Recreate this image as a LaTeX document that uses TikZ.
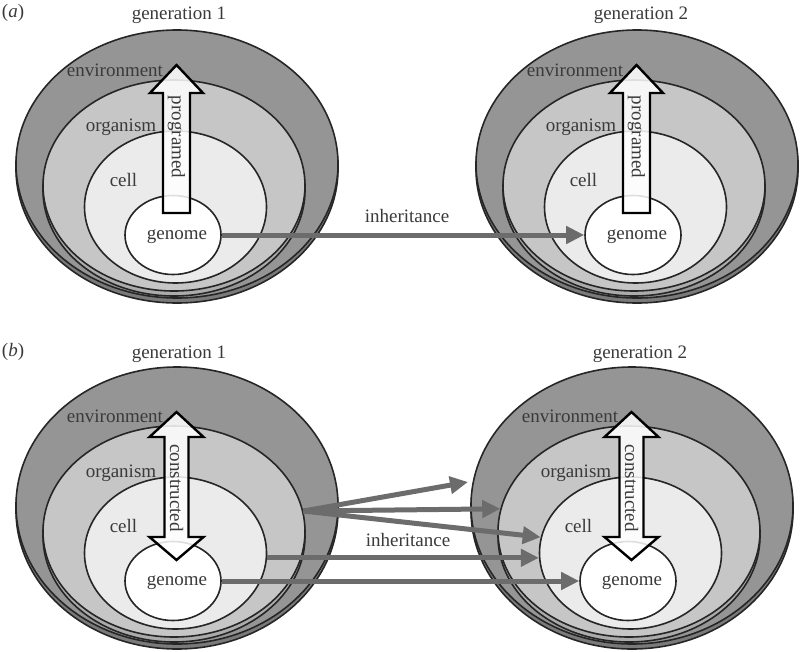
\documentclass[tikz,border=0pt]{standalone}
\usepackage{fontspec}
\setmainfont{Liberation Serif}
\usetikzlibrary{shapes.geometric,arrows.meta}
\definecolor{envc}{HTML}{959595}
\definecolor{envsh}{HTML}{7A7A7A}
\definecolor{orgc}{HTML}{C6C6C6}
\definecolor{orgsh}{HTML}{ABABAB}
\definecolor{cellc}{HTML}{EBEBEB}
\definecolor{inhc}{HTML}{6C6C6C}
\definecolor{txtc}{HTML}{3A3A3A}
\tikzset{
  layer/.style={ellipse, draw=black!85, line width=1.6pt, inner sep=0pt},
  lbl/.style={text=txtc, font=\fontsize{19}{22}\selectfont, inner sep=0pt},
  inh/.style={draw=inhc, line width=5pt, -{Triangle[length=18pt,width=17pt]}},
  blockarrow/.style={draw=black, line width=2.4pt, fill=white, fill opacity=0.85, line join=miter},
}
% #1 dx, #2 dy, #3 suffix, #4 outer centre y, #5 outer height
\newcommand{\nestgroup}[5]{%
  \begin{scope}[shift={(#1,#2)}]
    \node[layer, fill=envsh, minimum width=322pt, minimum height=#5pt] (envs#3) at (177,#4+5) {};
    \node[layer, fill=envc, minimum width=322pt, minimum height=#5pt] (env#3) at (177,#4) {};
    \node[layer, fill=orgsh, minimum width=262pt, minimum height=211pt] (orgs#3) at (174,190.5) {};
    \node[layer, fill=orgc, minimum width=262pt, minimum height=211pt] (org#3) at (174,185.5) {};
    \node[layer, fill=cellc, minimum width=182pt, minimum height=152pt] (cell#3) at (175.5,207) {};
    \node[layer, fill=white, minimum width=96pt, minimum height=79pt] (gen#3) at (173,235) {};
    \node[lbl] (lenv#3) at (115,70) {environment};
    \node[lbl] (lorg#3) at (121,127) {organism};
    \node[lbl] (lcell#3) at (123.5,180) {cell};
    \node[lbl] (lgen#3) at (177,237) {genome};
  \end{scope}}
% #1 dx, #2 dy, #3 suffix
\newcommand{\progarrow}[3]{%
  \begin{scope}[shift={(#1,#2)}]
    \draw[blockarrow] (163,213) -- (163,93) -- (150,93) -- (176.5,65) -- (203,93) -- (190,93) -- (190,213) -- cycle;
    \node[lbl, rotate=-90] (prog#3) at (176.5,137) {programed};
  \end{scope}}
\newcommand{\consarrow}[3]{%
  \begin{scope}[shift={(#1,#2)}]
    \draw[blockarrow] (176.5,66) -- (203.5,91) -- (188.5,91) -- (188.5,191) -- (203.5,191) -- (176.5,214)
      -- (149.5,191) -- (164.5,191) -- (164.5,91) -- (149.5,91) -- cycle;
    \node[lbl, rotate=-90] (cons#3) at (176.5,142) {constructed};
  \end{scope}}
\begin{document}
\begin{tikzpicture}[x=1pt, y=-1pt]
  \useasboundingbox (0,0) rectangle (800,651);
  % panel (a)
  \node[lbl] (pa) at (13,13) {(\textit{a})};
  \node[lbl] (g1a) at (179,15) {generation 1};
  \node[lbl] (g2a) at (641,15) {generation 2};
  \nestgroup{0}{0}{1a}{164}{268}
  \nestgroup{460}{0}{2a}{164}{268}
  \progarrow{0}{0}{1a}
  \progarrow{460}{0}{2a}
  \draw[inh] (gen1a.east) -- (gen2a.west);
  \node[lbl] (ia) at (407,216) {inheritance};
  % panel (b)
  \node[lbl] (pb) at (13,352) {(\textit{b})};
  \node[lbl] (g1b) at (179,354) {generation 1};
  \node[lbl] (g2b) at (640,354) {generation 2};
  \nestgroup{0}{346}{1b}{159.5}{277}
  \nestgroup{455}{346}{2b}{159.5}{277}
  \consarrow{0}{346}{1b}
  \consarrow{455}{346}{2b}
  \coordinate (t1) at (468,482);
  \draw[inh] (org1b.9) -- (t1);
  \draw[inh] (org1b.9) -- (org2b.170);
  \draw[inh] (org1b.9) -- (cell2b.170);
  \draw[inh] (cell1b.-3) -- (cell2b.183);
  \draw[inh] (gen1b.east) -- (gen2b.west);
  \node[lbl] (ib) at (408,540) {inheritance};
\end{tikzpicture}
\end{document}
